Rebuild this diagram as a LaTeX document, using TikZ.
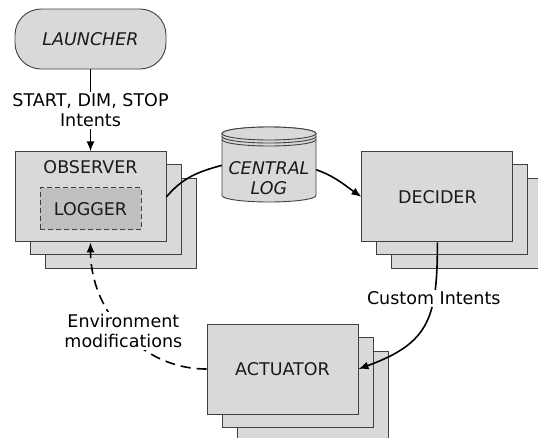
\documentclass[tikz,border=0pt]{standalone}
\usepackage{fontspec}
\setmainfont{DejaVu Sans}
\usetikzlibrary{arrows.meta,positioning,shadows}
\definecolor{boxgray}{RGB}{217,217,217}
\definecolor{loggray}{RGB}{192,192,192}
\definecolor{edgegray}{RGB}{64,64,64}
\definecolor{inkblack}{RGB}{26,26,26}

\begin{document}
\begin{tikzpicture}[
  x=1pt, y=1pt,
  font=\fontsize{17.5pt}{20pt}\selectfont,
  text=inkblack,
  base/.style={rectangle,draw=edgegray,fill=boxgray,line width=0.9pt},
  launch/.style={base,rounded corners=26pt,minimum width=151pt,minimum height=60pt},
  stack/.style={base,minimum width=151pt,minimum height=90pt,
    copy shadow={shadow xshift=30pt,shadow yshift=-27pt},
    copy shadow={shadow xshift=15pt,shadow yshift=-13pt}},
  logbox/.style={base,dash pattern=on 5pt off 3pt,fill=loggray,
    minimum width=101pt,minimum height=42pt},
  disk/.style={draw=edgegray,fill=boxgray,line width=0.9pt},
  tag/.style={fill=white,align=center,inner sep=2pt},
  arrow/.style={-{Latex[length=10pt,width=8pt]},line width=1.6pt,color=black}
]
  \clip (0,0) rectangle (538,-437);

  % nodes
  \node[launch] (launcher) at (90.5,-39) {\itshape LAUNCHER};
  \node[stack, below=82pt of launcher] (observer) {};
  \node (obstitle) at ([yshift=-16pt]observer.north) {OBSERVER};
  \node[logbox] (logger) at ([yshift=-12pt]observer.center) {LOGGER};
  \node[stack, right=195pt of observer] (decider) {DECIDER};
  \node[stack] (actuator) at (282.5,-369) {ACTUATOR};

  % central log drum
  \begin{scope}[shift={(269,-164.5)}]
    \path[disk] (-47,31) -- (-47,-31)
      arc[start angle=180,end angle=360,x radius=47,y radius=6.5]
      -- (47,31) arc[start angle=0,end angle=180,x radius=47,y radius=6.5] -- cycle;
    \draw[disk] (0,31) ellipse[x radius=47,y radius=6.5];
    \draw[disk,fill=none] (-47,28) arc[start angle=180,end angle=360,x radius=47,y radius=6.5];
    \draw[disk,fill=none] (-47,25) arc[start angle=180,end angle=360,x radius=47,y radius=6.5];
  \end{scope}
  \node[align=center,font=\fontsize{17.5pt}{20pt}\selectfont\itshape,
    minimum width=94pt,minimum height=50pt] (log) at (269,-178) {CENTRAL\\LOG};

  % connectors
  \draw[arrow] (launcher) -- (observer) node[tag,midway] {START, DIM, STOP\\Intents};
  \draw[line width=1.6pt] (observer.east) to[out=50,in=195] (log.165);
  \draw[arrow] (log.10) to[out=-20,in=145] (decider.west);
  \draw[arrow] (decider.south) to[out=-90,in=20,looseness=1.3]
    node[tag,pos=0.3] {Custom Intents} (actuator.east);
  \draw[arrow,dash pattern=on 10pt off 6pt] (actuator.west) to[out=180,in=-90]
    node[tag] {Environment\\modifications} (observer.south);
\end{tikzpicture}
\end{document}
